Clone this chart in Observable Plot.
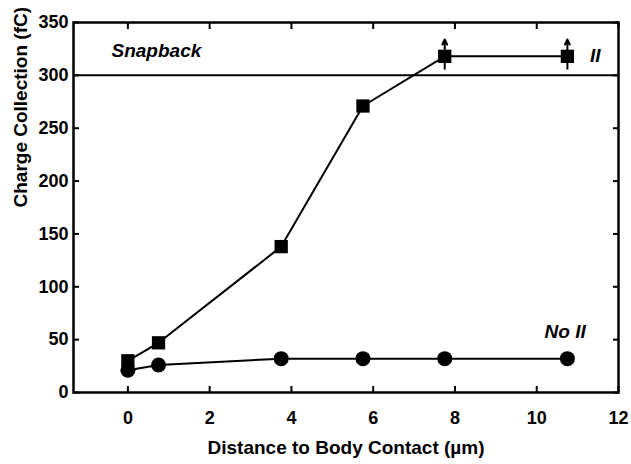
<!DOCTYPE html>
<html><head><meta charset="utf-8">
<script src="https://cdn.jsdelivr.net/npm/d3@7"></script>
<script src="https://cdn.jsdelivr.net/npm/@observablehq/plot@0.6"></script>
<style>body{margin:0;background:#fff;} svg{font-family:"Liberation Sans",Arial,sans-serif;}</style>
</head><body><div id="chart"></div>
<script>
const distance = [0, 0.75, 3.75, 5.75, 7.75, 10.75];
const withII = [30, 47, 138, 271, 318, 318];
const noII = [21, 26, 32, 32, 32, 32];
const arrowX = [7.75, 10.75];
const arrowLow = [305, 305];
const arrowHigh = [334, 334];
const snapback = 300;
const xDomain = [-1.33, 12];
const yDomain = [0, 350];
const xTicks = [0, 2, 4, 6, 8, 10, 12];
const yTicks = [0, 50, 100, 150, 200, 250, 300, 350];

const sq = distance.map((x, i) => ({x, y: withII[i]}));
const ci = distance.map((x, i) => ({x, y: noII[i]}));
const arr = arrowX.map((x, i) => ({x, lo: arrowLow[i], hi: arrowHigh[i], mid: withII[4 + i]}));

const chart = Plot.plot({
  width: 631, height: 464,
  marginLeft: 73, marginRight: 13, marginTop: 22, marginBottom: 72,
  x: {domain: xDomain, label: null},
  y: {domain: yDomain, label: null},
  style: {fontSize: "18px", fontWeight: "bold", color: "#000", background: "#fff"},
  marks: [
    Plot.frame({stroke: "#000", strokeWidth: 2.5}),
    Plot.axisX({ticks: xTicks, tickSize: -6, tickPadding: 25, strokeWidth: 2, fontSize: 18}),
    Plot.axisX({anchor: "top", ticks: xTicks, tickSize: -6, tickFormat: () => "", strokeWidth: 2}),
    Plot.axisY({ticks: yTicks, tickSize: -6, tickPadding: 11, strokeWidth: 2, fontSize: 18}),
    Plot.axisY({anchor: "right", ticks: yTicks, tickSize: -6, tickFormat: () => "", strokeWidth: 2}),
    Plot.ruleY([snapback], {stroke: "#000", strokeWidth: 2}),
    Plot.line(sq, {x: "x", y: "y", stroke: "#000", strokeWidth: 2}),
    Plot.line(ci, {x: "x", y: "y", stroke: "#000", strokeWidth: 2}),
    Plot.ruleX(arr, {x: "x", y1: "lo", y2: "mid", stroke: "#000", strokeWidth: 2}),
    Plot.arrow(arr, {x1: "x", x2: "x", y1: "mid", y2: "hi", stroke: "#000", strokeWidth: 2, headLength: 8, headAngle: 50}),
    Plot.dot(sq, {x: "x", y: "y", symbol: "square", r: 7.5, fill: "#000"}),
    Plot.dot(ci, {x: "x", y: "y", r: 7.5, fill: "#000"}),
    Plot.text(["Snapback"], {x: -0.4, y: 323.5, text: d => d, textAnchor: "start", fontStyle: "italic", fontSize: 19}),
    Plot.text(["II"], {x: 11.3, y: 318, text: d => d, textAnchor: "start", fontStyle: "italic", fontSize: 19}),
    Plot.text(["No II"], {x: 11.2, y: 57, text: d => d, textAnchor: "end", fontStyle: "italic", fontSize: 19}),
    Plot.text(["Distance to Body Contact (µm)"], {frameAnchor: "bottom", dy: 61, text: d => d, fontSize: 19}),
    Plot.text(["Charge Collection (fC)"], {frameAnchor: "left", dx: -53, rotate: -90, text: d => d, fontSize: 19})
  ]
});
document.getElementById("chart").appendChild(chart);
</script></body></html>
